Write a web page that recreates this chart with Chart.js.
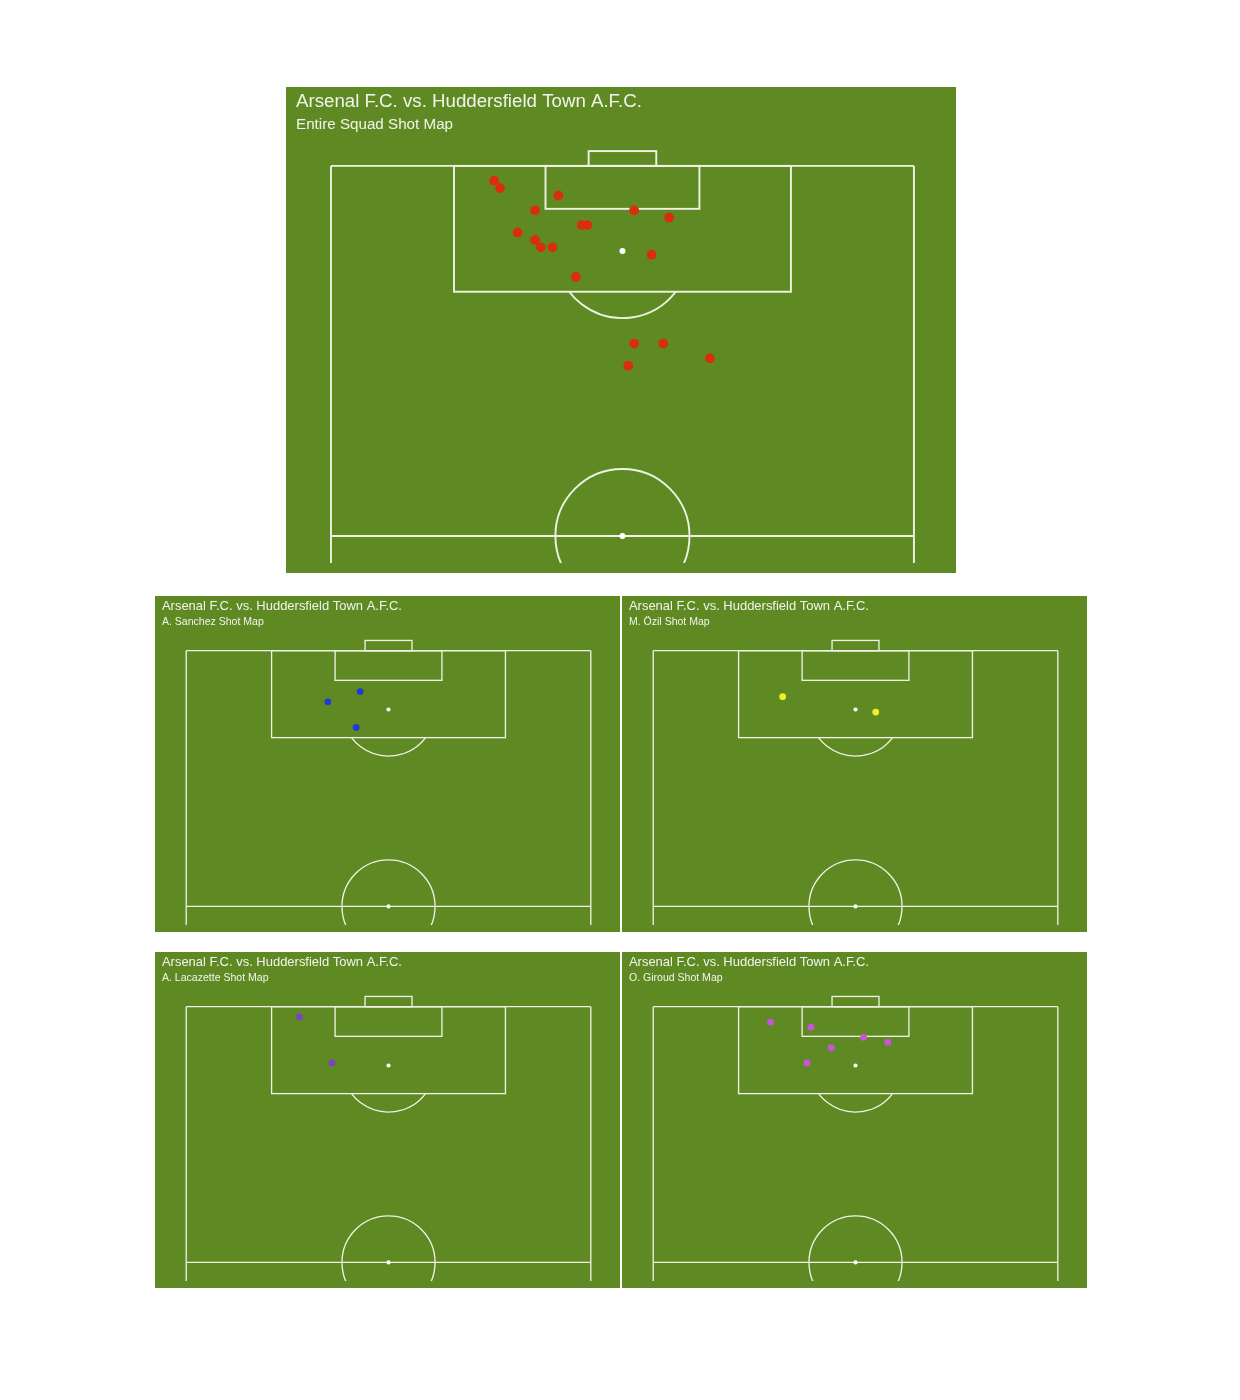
<!DOCTYPE html>
<html>
<head>
<meta charset="utf-8">
<title>Arsenal F.C. vs. Huddersfield Town A.F.C. - Shot Maps</title>
<script src="https://cdn.jsdelivr.net/npm/chart.js@4.4.0/dist/chart.umd.min.js"></script>
<style>
  html, body { margin: 0; padding: 0; background: #ffffff; }
  body { width: 1240px; height: 1400px; position: relative; }
  .panel { position: absolute; }
  .panel canvas { display: block; background: #5f8a23; }
</style>
</head>
<body>
<div class="panel" style="left:286px;top:87px"><canvas id="chart-all" width="670" height="486"></canvas></div>
<div class="panel" style="left:155px;top:596px"><canvas id="chart-sanchez" width="465" height="336"></canvas></div>
<div class="panel" style="left:622px;top:596px"><canvas id="chart-ozil" width="465" height="336"></canvas></div>
<div class="panel" style="left:155px;top:952px"><canvas id="chart-lacazette" width="465" height="336"></canvas></div>
<div class="panel" style="left:622px;top:952px"><canvas id="chart-giroud" width="465" height="336"></canvas></div>
<script>
// Match + shot data (Opta style coords: x across pitch 0-100, y towards goal 0-100)
const matchTitle = "Arsenal F.C. vs. Huddersfield Town A.F.C.";

const sanchezX = [43, 35, 42];
const sanchezY = [92, 90, 85];

const ozilX = [32, 55];
const ozilY = [91, 88];

const lacazetteX = [28, 36];
const lacazetteY = [98, 89];

const giroudX = [29, 39, 52, 58, 44, 38];
const giroudY = [97, 96, 94, 93, 92, 89];

// shots by the rest of the squad
const otherX = [35, 52, 57, 51, 65];
const otherY = [94, 76, 76, 73, 74];

// pitch markings, same units as the shots
const PITCH = {
  goalLine: 100,
  halfway: 50,
  penaltyBox: [21.1, 83, 78.9, 100],
  sixYardBox: [36.8, 94.2, 63.2, 100],
  goal: [44.2, 100, 55.8, 102],
  penaltySpot: [50, 88.5],
  centreSpot: [50, 50],
  circleRadius: 11.5, // in x units
};

const X_MIN = -6, X_MAX = 105.5;
const Y_MIN = 46.35, Y_MAX = 103.5;
const LINE_COLOR = "#eef3e4";

function toPoints(xs, ys) {
  return xs.map((v, i) => ({ x: v, y: ys[i] }));
}

// draws the half pitch behind the shots
const pitchPlugin = {
  id: "pitch",
  beforeDatasetsDraw(chart, args, opts) {
    const { ctx, chartArea } = chart;
    const xs = chart.scales.x;
    const ys = chart.scales.y;
    const s = opts.scale || 1;
    const px = (v) => xs.getPixelForValue(v);
    const py = (v) => ys.getPixelForValue(v);

    ctx.save();
    ctx.beginPath();
    ctx.rect(chartArea.left, chartArea.top, chartArea.width, chartArea.height);
    ctx.clip();
    ctx.strokeStyle = LINE_COLOR;
    ctx.lineWidth = 1.9 * s;

    function line(x0, y0, x1, y1) {
      ctx.beginPath();
      ctx.moveTo(px(x0), py(y0));
      ctx.lineTo(px(x1), py(y1));
      ctx.stroke();
    }
    function box(b) {
      ctx.strokeRect(px(b[0]), py(b[3]), px(b[2]) - px(b[0]), py(b[1]) - py(b[3]));
    }

    // touchlines run past halfway to the edge of the plot
    line(0, PITCH.goalLine, 0, Y_MIN - 5);
    line(100, PITCH.goalLine, 100, Y_MIN - 5);
    line(0, PITCH.goalLine, 100, PITCH.goalLine);
    line(0, PITCH.halfway, 100, PITCH.halfway);
    box(PITCH.penaltyBox);
    box(PITCH.sixYardBox);
    box(PITCH.goal);

    const r = px(PITCH.circleRadius) - px(0);

    // centre circle
    ctx.beginPath();
    ctx.arc(px(PITCH.centreSpot[0]), py(PITCH.centreSpot[1]), r, 0, Math.PI * 2);
    ctx.stroke();

    // the D outside the penalty area
    const cx = px(PITCH.penaltySpot[0]);
    const cy = py(PITCH.penaltySpot[1]);
    const off = py(PITCH.penaltyBox[1]) - cy;
    const a = Math.asin(Math.min(1, off / r));
    ctx.beginPath();
    ctx.arc(cx, cy, r, a, Math.PI - a);
    ctx.stroke();

    // spots
    ctx.fillStyle = "#ffffff";
    [PITCH.penaltySpot, PITCH.centreSpot].forEach((p) => {
      ctx.beginPath();
      ctx.arc(px(p[0]), py(p[1]), 3 * s, 0, Math.PI * 2);
      ctx.fill();
    });
    ctx.restore();
  },
};

function makeShotMap(canvasId, subtitle, points, color, s) {
  const ctx = document.getElementById(canvasId).getContext("2d");
  return new Chart(ctx, {
    type: "scatter",
    data: {
      datasets: [
        {
          label: subtitle,
          data: points,
          backgroundColor: color,
          borderColor: color,
          borderWidth: 0,
          pointRadius: 4.9 * s,
          pointHoverRadius: 4.9 * s,
        },
      ],
    },
    options: {
      responsive: false,
      animation: false,
      events: [],
      layout: {
        padding: { left: 10 * s, right: 10 * s, top: 0, bottom: 10 * s },
      },
      scales: {
        x: { type: "linear", min: X_MIN, max: X_MAX, display: false },
        y: { type: "linear", min: Y_MIN, max: Y_MAX, display: false },
      },
      plugins: {
        legend: { display: false },
        tooltip: { enabled: false },
        title: {
          display: true,
          text: matchTitle,
          align: "start",
          color: "#f2f4ec",
          font: { family: "'Liberation Sans', Arial, Helvetica, sans-serif", size: 18.7 * s, weight: "normal", lineHeight: 1.2 },
          padding: { top: 3.6 * s, bottom: 2.96 * s },
        },
        subtitle: {
          display: true,
          text: subtitle,
          align: "start",
          color: "#f2f4ec",
          font: { family: "'Liberation Sans', Arial, Helvetica, sans-serif", size: 15.2 * s, weight: "normal", lineHeight: 1.2 },
          padding: { top: 0, bottom: 5.76 * s },
        },
        pitch: { scale: s },
      },
    },
    plugins: [pitchPlugin],
  });
}

const small = 465 / 670;

const squadX = otherX.concat(sanchezX, ozilX, lacazetteX, giroudX);
const squadY = otherY.concat(sanchezY, ozilY, lacazetteY, giroudY);

makeShotMap("chart-all", "Entire Squad Shot Map", toPoints(squadX, squadY), "#d92e0c", 1);
makeShotMap("chart-sanchez", "A. Sanchez Shot Map", toPoints(sanchezX, sanchezY), "#2339d6", small);
makeShotMap("chart-ozil", "M. Özil Shot Map", toPoints(ozilX, ozilY), "#f2ee2a", small);
makeShotMap("chart-lacazette", "A. Lacazette Shot Map", toPoints(lacazetteX, lacazetteY), "#7c42c8", small);
makeShotMap("chart-giroud", "O. Giroud Shot Map", toPoints(giroudX, giroudY), "#cc52dc", small);
</script>
</body>
</html>
